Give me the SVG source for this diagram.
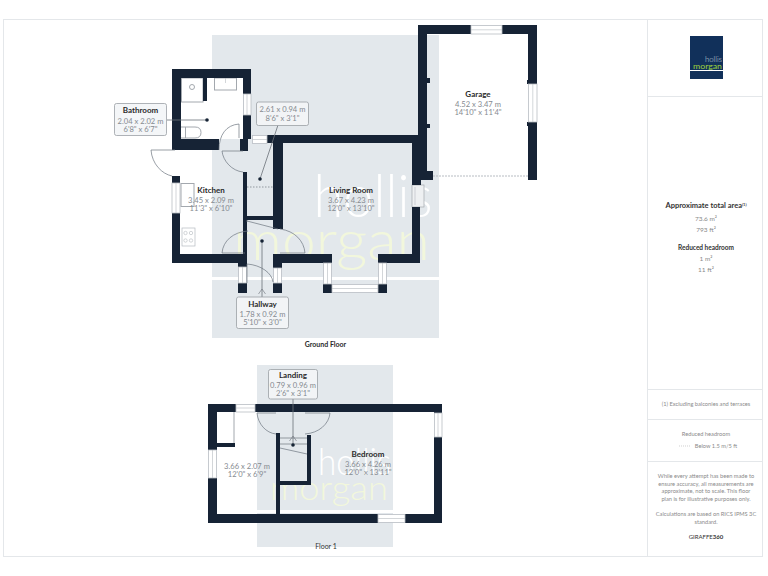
<svg xmlns="http://www.w3.org/2000/svg" width="768" height="576" viewBox="0 0 768 576">
<style>
text{font-family:"Lato","Liberation Sans",sans-serif;text-anchor:middle}
.w rect{fill:#162335}
.t{font-size:8px;font-weight:700;fill:#2a2a2a}
.d{font-size:7.600px;fill:#858a90}
.g{fill:#e3e8ec}
.win{fill:#fff;stroke:#b9bec4;stroke-width:.8}
.line{fill:none;stroke:#6d7680;stroke-width:.7}
.fx{fill:none;stroke:#a3a8ae;stroke-width:1}
.thin{fill:none;stroke:#b5bac0;stroke-width:.6}
.lbl{fill:#f3f5f7;fill-opacity:.9;stroke:#9a9fa5;stroke-width:.8}
.p{font-size:6.500px;fill:#888}
.q{font-size:5.700px;fill:#8a8a8a}
.wm1{font-weight:300;fill:#fff}
.wm2{font-weight:300;fill:#f2f7dc}
</style>
<rect width="768" height="576" fill="#fff"/>
<g id="frame" fill="none" stroke="#e4e7ea" stroke-width="1">
<rect x="3.500" y="19.500" width="759" height="537"/>
<path d="M647.500 19.500V556.500M647.500 96.500H762.500M647.500 389.500H762.500M647.500 419.500H762.500M647.500 461.500H762.500"/>
</g>
<g id="plan-backgrounds">
<rect class="g" x="212" y="35" width="227" height="242"/>
<rect class="g" x="212" y="280" width="227" height="58"/>
<rect class="g" x="257" y="365" width="136" height="145"/>
<rect class="g" x="257" y="513" width="136" height="34"/>
<rect x="181" y="78" width="62" height="61" fill="#fff"/>
<rect x="439" y="34" width="89" height="142" fill="#fff"/>
</g>
<g id="watermark">
<text class="wm1" x="373" y="217" font-size="60" textLength="119" lengthAdjust="spacingAndGlyphs">hollis</text>
<text class="wm2" x="331.500" y="260" font-size="56" textLength="197" lengthAdjust="spacingAndGlyphs">morgan</text>
<text class="wm1" x="354.500" y="475" font-size="37" textLength="73" lengthAdjust="spacingAndGlyphs">hollis</text>
<text class="wm2" x="329" y="500" font-size="34" textLength="118" lengthAdjust="spacingAndGlyphs">morgan</text>
</g>
<g id="fixtures">
<rect class="fx" x="181.500" y="78" width="21.500" height="24"/>
<circle class="fx" cx="192" cy="87" r="2.500" stroke-width=".7"/>
<rect class="fx" x="214.500" y="78" width="22" height="12"/>
<path class="thin" d="M225.500 78V83"/>
<path class="fx" d="M181 127H195Q201 127 201 132.500T195 138H181" stroke-width=".8"/>
<path class="fx" d="M185.500 127V138" stroke-width=".8"/>
<rect class="fx" x="181" y="183.500" width="13" height="23"/>
<rect x="182" y="228" width="13" height="18" fill="#fff" stroke="#b5bac0" stroke-width=".7"/>
<circle class="thin" cx="185.500" cy="233" r="1.700"/><circle class="thin" cx="191" cy="233" r="1.700"/>
<circle class="thin" cx="185.500" cy="240.500" r="1.700"/><circle class="thin" cx="191" cy="240.500" r="1.700"/>
<rect x="412" y="185" width="12" height="22" fill="#eef0f2" stroke="#a3a8ae" stroke-width=".7"/>
<path class="thin" d="M415 187V205"/>
<path class="fx" d="M234 412V443"/>
</g>
<g id="walls" class="w">
<rect x="172" y="69" width="79" height="9"/>
<rect x="172" y="69" width="9" height="81"/>
<rect x="172" y="139" width="47" height="11"/>
<rect x="203" y="78" width="4" height="23"/>
<rect x="243" y="69" width="8" height="25"/>
<rect x="243" y="115" width="8" height="24"/>
<rect x="240" y="139" width="8" height="12"/>
<rect x="172" y="176" width="8" height="7"/>
<rect x="172" y="213" width="8" height="50"/>
<rect x="172" y="254" width="75" height="9"/>
<rect x="238" y="254" width="9" height="13"/>
<rect x="243" y="172" width="4" height="82"/>
<rect x="247" y="216" width="26" height="4"/>
<rect x="273" y="135" width="10" height="94"/>
<rect x="267" y="135" width="151" height="8"/>
<rect x="412" y="135" width="15" height="45"/>
<rect x="412" y="171" width="21" height="9"/>
<rect x="412" y="180" width="9" height="5"/>
<rect x="412" y="207" width="8" height="56"/>
<rect x="378" y="254" width="42" height="9"/>
<rect x="273" y="254" width="59" height="9"/>
<rect x="273" y="254" width="9" height="14"/>
<rect x="238" y="283" width="9" height="10"/>
<rect x="273" y="283" width="9" height="10"/>
<rect x="323" y="284" width="9" height="9"/>
<rect x="378" y="284" width="9" height="9"/>
<rect x="418" y="25" width="9" height="146"/>
<rect x="418" y="25" width="53" height="9"/>
<rect x="502" y="25" width="35" height="9"/>
<rect x="528" y="25" width="9" height="59"/>
<rect x="528" y="122" width="9" height="58"/>
<rect x="527" y="80" width="2" height="4"/>
<rect x="527" y="122" width="2" height="4"/>
<rect x="427" y="78" width="3" height="5"/>
<rect x="427" y="124" width="3" height="4"/>
<rect x="208" y="404" width="28" height="8"/>
<rect x="255" y="404" width="187" height="8"/>
<rect x="208" y="404" width="9" height="46"/>
<rect x="208" y="478" width="9" height="45"/>
<rect x="208" y="514" width="170" height="9"/>
<rect x="405" y="514" width="37" height="9"/>
<rect x="434" y="404" width="8" height="9"/>
<rect x="434" y="437" width="8" height="86"/>
<rect x="217" y="443" width="18" height="4"/>
<rect x="276" y="433" width="4" height="81"/>
<rect x="307" y="435" width="4" height="50"/>
<rect x="280" y="481" width="31" height="4"/>
</g>
<g id="windows">
<rect class="win" x="471" y="25.500" width="31" height="8.500"/><path class="thin" d="M471 29.800H502"/>
<rect class="win" x="528.500" y="84" width="8.500" height="38"/><path class="thin" d="M532.800 84V122"/>
<rect class="win" x="243.500" y="94" width="7.500" height="21"/><path class="thin" d="M247 94V115"/>
<rect class="win" x="172" y="183" width="8" height="30"/><path class="thin" d="M176 183V213"/>
<rect class="win" x="252.500" y="135.500" width="14.500" height="8"/><path class="thin" d="M252.500 139.500H267"/>
<rect class="win" x="238.500" y="267" width="8" height="16"/><path class="thin" d="M242.500 267V283"/>
<rect class="win" x="273.500" y="268" width="8" height="15"/><path class="thin" d="M277.500 268V283"/>
<rect class="win" x="323.500" y="263" width="8" height="21"/><path class="thin" d="M327.500 263V284"/>
<rect class="win" x="378.500" y="263" width="8" height="21"/><path class="thin" d="M382.500 263V284"/>
<rect class="win" x="332" y="284.500" width="46" height="8"/><path class="thin" d="M332 288.500H378"/>
<rect class="win" x="236" y="404.500" width="19" height="7.500"/><path class="thin" d="M236 408H255"/>
<rect class="win" x="434.500" y="413" width="7.500" height="24"/><path class="thin" d="M438 413V437"/>
<rect class="win" x="208.500" y="450" width="8" height="28"/><path class="thin" d="M212.500 450V478"/>
<rect class="win" x="378" y="514.500" width="27" height="8"/><path class="thin" d="M378 518.500H405"/>
<path d="M433 176H528" stroke="#b7bcc2" stroke-width="1" stroke-dasharray="2 1"/>
</g>
<g id="connectors">
<g class="line">
<path d="M219 150C219 135 226 125 239 124V138"/>
<path d="M243 151H222C223 161 232 171 243 172"/>
<path d="M151 150H175M151 150C152 164 162 174 172 176"/>
<path d="M222 253H245M222 253C223 241 233 232 248 231"/>
<path d="M305 253H280M305 253C304 241 295 231 280 229"/>
<path d="M247 264V283M247 264C261 265 272 273 273 282"/>
<path d="M247 187H273" stroke-dasharray="1.500 1.500"/>
<path d="M247 221L278 229M247 220V222"/>
<path d="M257 413H276M257 413C258 424 266 433 276 434"/>
<path d="M330 413H305M330 413C329 424 319 433 305 434"/>
<path d="M280 438H307M280 444H307M280 448L307 454"/>
</g>
<g stroke="#6b7178" stroke-width=".8" fill="none">
<path d="M167 120H207"/><path d="M278 125L260 179"/><path d="M262 241V297"/><path d="M258.500 294L262 289L265.500 294" stroke-width=".6"/>
<path d="M293 399V445"/><path d="M289.500 441L293 436L296.500 441" stroke-width=".6"/>
</g>
<g fill="#162335"><circle cx="207" cy="120" r="1.800"/><circle cx="260" cy="179" r="1.800"/><circle cx="262" cy="241" r="1.800"/><circle cx="293" cy="445" r="1.800"/></g>
</g>
<g id="label-bathroom"><rect class="lbl" x="114.500" y="103.500" width="52" height="32" rx="2"/><text class="t" x="140.500" y="113">Bathroom</text><text class="d" x="140.500" y="123.500">2.04 x 2.02 m</text><text class="d" x="140.500" y="131.500">6'8" x 6'7"</text></g>
<g id="label-hall-upper"><rect class="lbl" x="256.500" y="102" width="52" height="23.500" rx="2"/><text class="d" x="282.500" y="112">2.61 x 0.94 m</text><text class="d" x="282.500" y="120.500">8'6" x 3'1"</text></g>
<g id="label-kitchen"><text class="t" x="211" y="193">Kitchen</text><text class="d" x="211" y="203">3.45 x 2.09 m</text><text class="d" x="211" y="211">11'3" x 6'10"</text></g>
<g id="label-living"><text class="t" x="351" y="193">Living Room</text><text class="d" x="351" y="203">3.67 x 4.23 m</text><text class="d" x="351" y="211">12'0" x 13'10"</text></g>
<g id="label-garage"><text class="t" x="478" y="97">Garage</text><text class="d" x="478" y="107">4.52 x 3.47 m</text><text class="d" x="478" y="115">14'10" x 11'4"</text></g>
<g id="label-hallway"><rect class="lbl" x="236.500" y="297" width="52" height="31.500" rx="2"/><text class="t" x="262.500" y="306.500">Hallway</text><text class="d" x="262.500" y="316.500">1.78 x 0.92 m</text><text class="d" x="262.500" y="324.500">5'10" x 3'0"</text></g>
<text class="t" x="325.500" y="347" style="font-size:7px">Ground Floor</text>
<g id="label-landing"><rect class="lbl" x="268.500" y="369.500" width="49" height="29.500" rx="2"/><text class="t" x="293" y="378">Landing</text><text class="d" x="293" y="388">0.79 x 0.96 m</text><text class="d" x="293" y="395.500">2'6" x 3'1"</text></g>
<g id="label-bedroom"><text class="t" x="368" y="457">Bedroom</text><text class="d" x="368" y="466.500">3.66 x 4.26 m</text><text class="d" x="368" y="474.500">12'0" x 13'11"</text></g>
<g id="label-room"><text class="d" x="247" y="469">3.66 x 2.07 m</text><text class="d" x="247" y="477">12'0" x 6'9"</text></g>
<text x="326" y="549" style="font-size:7px;fill:#333">Floor 1</text>
<g id="logo"><rect x="690" y="36" width="33" height="43" fill="#11305a"/><rect x="690" y="70" width="33" height="1" fill="#fff"/>
<text x="722" y="62" style="font-size:8px;text-anchor:end;fill:#c9d3df;font-weight:300" textLength="17" lengthAdjust="spacingAndGlyphs">hollis</text><text x="722" y="68.500" style="font-size:8px;text-anchor:end;fill:#9fd23c" textLength="29" lengthAdjust="spacingAndGlyphs">morgan</text></g>
<g id="summary">
<text x="706" y="208" style="font-size:7.500px;font-weight:700;fill:#333">Approximate total area<tspan dy="-2" style="font-size:4px">(1)</tspan></text>
<text class="p" x="706" y="221">73.6 m²</text><text class="p" x="706" y="232">793 ft²</text>
<text x="706" y="250" style="font-size:6.500px;font-weight:700;fill:#333">Reduced headroom</text>
<text class="p" x="706" y="261">1 m²</text><text class="p" x="706" y="272">11 ft²</text>
<text class="q" x="706" y="406">(1) Excluding balconies and terraces</text>
<text class="q" x="706" y="436">Reduced headroom</text>
<text class="q" x="716" y="448">Below 1.5 m/5 ft</text>
<path d="M679 446H691" stroke="#bbb" stroke-width=".7" stroke-dasharray="1 1"/>
<text class="q" x="706" y="478">While every attempt has been made to</text>
<text class="q" x="706" y="486">ensure accuracy, all measurements are</text>
<text class="q" x="706" y="493">approximate, not to scale. This floor</text>
<text class="q" x="706" y="501">plan is for illustrative purposes only.</text>
<text class="q" x="706" y="516">Calculations are based on RICS IPMS 3C</text>
<text class="q" x="706" y="524">standard.</text>
<text x="706" y="539" style="font-size:6px;fill:#333">GIRAFFE<tspan font-weight="700">360</tspan></text>
</g>
</svg>
